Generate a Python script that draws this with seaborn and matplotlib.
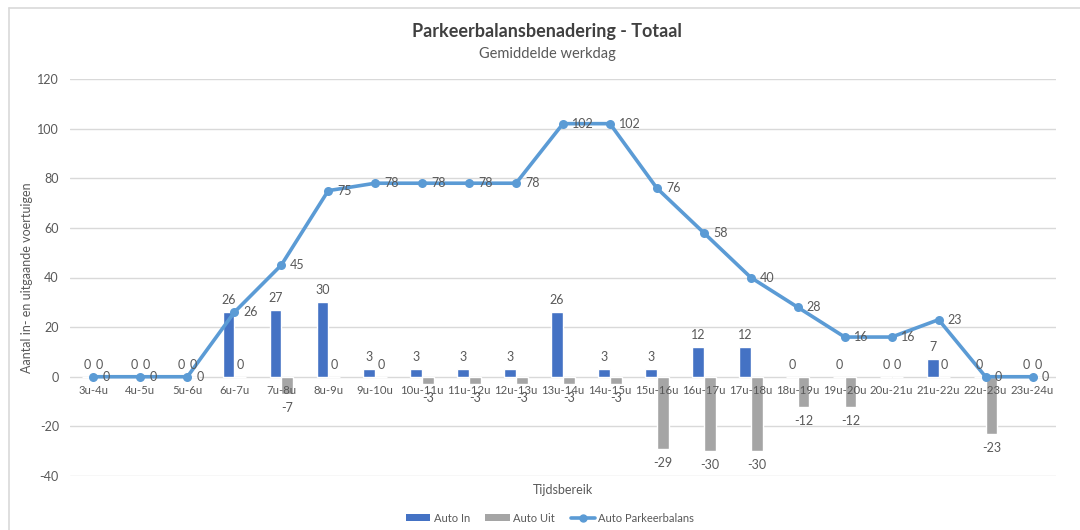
import numpy as np
import pandas as pd
import matplotlib
matplotlib.use("Agg")
import matplotlib.pyplot as plt
from matplotlib.lines import Line2D
from matplotlib.patches import Patch
import seaborn as sns

categories = ["3u-4u", "4u-5u", "5u-6u", "6u-7u", "7u-8u", "8u-9u", "9u-10u",
              "10u-11u", "11u-12u", "12u-13u", "13u-14u", "14u-15u", "15u-16u",
              "16u-17u", "17u-18u", "18u-19u", "19u-20u", "20u-21u", "21u-22u",
              "22u-23u", "23u-24u"]
auto_in = [0, 0, 0, 26, 27, 30, 3, 3, 3, 3, 26, 3, 3, 12, 12, 0, 0, 0, 7, 0, 0]
auto_uit = [0, 0, 0, 0, -7, 0, 0, -3, -3, -3, -3, -3, -29, -30, -30, -12, -12, 0, 0, -23, 0]
balans = [0, 0, 0, 26, 45, 75, 78, 78, 78, 78, 102, 102, 76, 58, 40, 28, 16, 16, 23, 0, 0]
y_ticks = [-40, -20, 0, 20, 40, 60, 80, 100, 120]

title = "Parkeerbalansbenadering - Totaal"
subtitle = "Gemiddelde werkdag"
x_label = "Tijdsbereik"
y_label = "Aantal in- en uitgaande voertuigen"
series_names = ["Auto In", "Auto Uit", "Auto Parkeerbalans"]

C_IN = "#4472C4"
C_UIT = "#A5A5A5"
C_LINE = "#5B9BD5"
C_TXT = "#595959"
C_GRID = "#D9D9D9"

sns.set_theme(style="white")
plt.rcParams["font.family"] = ["Lato", "DejaVu Sans"]

n = len(categories)
df = pd.DataFrame({
    "Tijdsbereik": categories * 2,
    "Waarde": auto_in + auto_uit,
    "Serie": [series_names[0]] * n + [series_names[1]] * n,
})

fig = plt.figure(figsize=(10.8, 5.3), dpi=100)
ax = fig.add_axes([70 / 1080, (530 - 476) / 530, 986 / 1080, 397 / 530])

sns.barplot(data=df, x="Tijdsbereik", y="Waarde", hue="Serie",
            order=categories, hue_order=series_names[:2],
            palette={series_names[0]: C_IN, series_names[1]: C_UIT},
            width=0.5, dodge=True, errorbar=None, legend=False,
            saturation=1, ax=ax, zorder=2)

sns.lineplot(x=np.arange(n), y=balans, color=C_LINE, linewidth=2.6,
             marker="o", markersize=6.5, markeredgewidth=0, sort=False,
             ax=ax, zorder=4)

ax.set_ylim(-40, 120)
ax.set_xlim(-0.5, n - 0.5)
ax.set_yticks(y_ticks)
ax.set_yticklabels([str(v) for v in y_ticks], color=C_TXT, fontsize=9)
ax.tick_params(axis="y", length=0, pad=8)
ax.set_xticks(np.arange(n))
ax.set_xticklabels([""] * n)
ax.tick_params(axis="x", length=0)
ax.yaxis.grid(True, color=C_GRID, linewidth=1.0, zorder=0)
ax.xaxis.grid(False)
ax.set_axisbelow(True)
for s in ax.spines.values():
    s.set_visible(False)

# category labels at the zero line
for i, c in enumerate(categories):
    ax.annotate(c, xy=(i, 0), xytext=(0, -14), textcoords="offset pixels",
                ha="center", va="center", fontsize=8.2, color=C_TXT, zorder=5)

# bar labels
for cont, vals in zip(ax.containers, [auto_in, auto_uit]):
    for patch, v in zip(cont.patches, vals):
        xc = patch.get_x() + patch.get_width() / 2
        off = 12 if v >= 0 else -14
        ax.annotate(str(v), xy=(xc, v), xytext=(0, off), textcoords="offset pixels",
                    ha="center", va="center", fontsize=9, color=C_TXT, zorder=6)

# line labels
for i, v in enumerate(balans):
    ax.annotate(str(v), xy=(i, v), xytext=(9, 0), textcoords="offset pixels",
                ha="left", va="center", fontsize=9, color=C_TXT, zorder=6)

ax.set_xlabel(x_label, fontsize=9, color=C_TXT, labelpad=2)
ax.set_ylabel(y_label, fontsize=9, color=C_TXT)
ax.yaxis.set_label_coords(-37 / 986, 0.5)

fig.text(547 / 1080, 1 - 31 / 530, title, ha="center", va="center",
         fontsize=13, fontweight="bold", color="#404040")
fig.text(547 / 1080, 1 - 54 / 530, subtitle, ha="center", va="center",
         fontsize=10.5, color=C_TXT)

handles = [Patch(facecolor=C_IN, edgecolor="none"),
           Patch(facecolor=C_UIT, edgecolor="none"),
           Line2D([0], [0], color=C_LINE, lw=2.6, marker="o", markersize=5)]
fig.legend(handles, series_names, loc="center", bbox_to_anchor=(550 / 1080, 12 / 530),
           ncol=3, frameon=False, fontsize=8, labelcolor=C_TXT,
           handlelength=2.2, handleheight=0.5, handletextpad=0.3, columnspacing=1.4)

# outer chart border (top and left visible)
fig.add_artist(Line2D([9 / 1080, 1], [1 - 8 / 530, 1 - 8 / 530], color=C_GRID, lw=1.2,
                      transform=fig.transFigure))
fig.add_artist(Line2D([9 / 1080, 9 / 1080], [0, 1 - 8 / 530], color=C_GRID, lw=1.2,
                      transform=fig.transFigure))

fig.savefig("out.png", dpi=100, facecolor="white")
